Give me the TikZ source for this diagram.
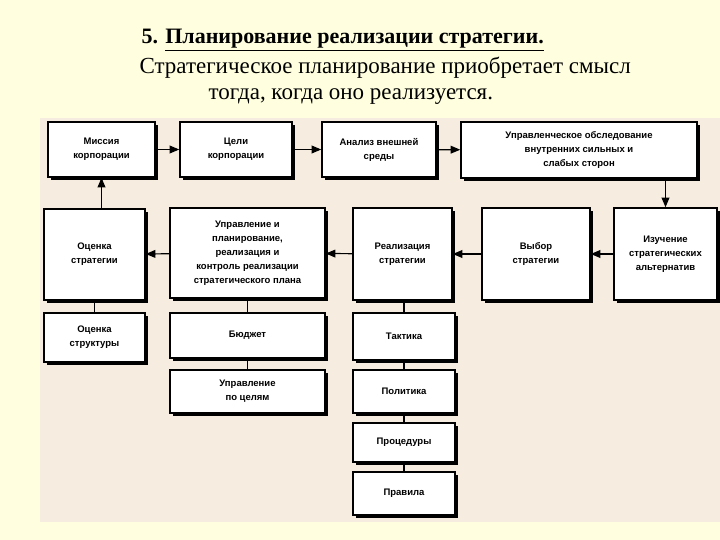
\documentclass[tikz,border=0pt]{standalone}
\usepackage{fontspec}
\setmainfont{Liberation Serif}
\newfontfamily\boxfont{Liberation Sans}
\usetikzlibrary{arrows, shadows, calc}

\definecolor{slidebg}{RGB}{255,255,224}
\definecolor{paperbg}{RGB}{246,237,224}
\tikzset{
  blk/.style={draw=black, line width=1.6pt, fill=white, align=center,
    font=\boxfont\bfseries\fontsize{9.5}{14}\selectfont, inner sep=1pt,
    drop shadow={shadow xshift=3pt, shadow yshift=-3pt, fill=black, opacity=1}},
  lnk/.style={line width=1.2pt, -triangle 45},
  tie/.style={line width=1.2pt}
}
\newcommand{\blkat}[6]{% name, x1, y1, x2, y2, text
  \node[blk, minimum width=#4-#2, minimum height=#5-#3] (#1) at ({(#2+#4)/2},{(#3+#5)/2}) {#6};}

\begin{document}
\begin{tikzpicture}[x=1pt,y=-1pt]
  \useasboundingbox (0,0) rectangle (720,540);
  \fill[slidebg] (0,0) rectangle (720,540);
  \fill[paperbg] (40,118) rectangle (720,522);

  % title
  \node[anchor=west, font=\fontsize{22}{26}\selectfont\bfseries] (title) at (138,40)
    {5. \underline{Планирование реализации стратегии.}};
  \node[anchor=west, font=\fontsize{23}{26}\selectfont] (sub1) at (136,68)
    {Стратегическое планирование приобретает смысл};
  \node[anchor=west, font=\fontsize{23}{26}\selectfont] (sub2) at (205,97)
    {тогда, когда оно реализуется.};

  % top row
  \blkat{miss}{48}{122}{155}{177}{Миссия\\корпорации}
  \blkat{goal}{180}{122}{292}{177}{Цели\\корпорации}
  \blkat{env}{322}{122}{436}{177}{Анализ внешней\\среды}
  \blkat{surv}{461}{122}{697}{178}{Управленческое обследование\\внутренних сильных и\\слабых сторон}

  % middle row
  \blkat{evst}{44}{209}{145}{300}{Оценка\\стратегии}
  \blkat{ctrl}{170}{208}{325}{298}{Управление и\\планирование,\\реализация и\\контроль реализации\\стратегического плана}
  \blkat{impl}{353}{208}{452}{300}{Реализация\\стратегии}
  \blkat{sel}{482}{208}{590}{300}{Выбор\\стратегии}
  \blkat{alt}{614}{208}{717}{300}{Изучение\\стратегических\\альтернатив}

  % lower boxes
  \blkat{evstr}{44}{313}{145}{362}{Оценка\\структуры}
  \blkat{budg}{170}{313}{325}{358}{Бюджет}
  \blkat{mbo}{170}{370}{325}{413}{Управление\\по целям}
  \blkat{tact}{353}{313}{455}{360}{Тактика}
  \blkat{pol}{353}{370}{455}{413}{Политика}
  \blkat{proc}{353}{423}{455}{462}{Процедуры}
  \blkat{rule}{353}{472}{455}{515}{Правила}

  % arrows
  \draw[lnk] (miss) -- (goal);
  \draw[lnk] (goal) -- (env);
  \draw[lnk] (env) -- (surv);
  \draw[lnk] (surv.south -| alt) -- (alt);
  \draw[lnk] (alt) -- (sel);
  \draw[lnk] (sel) -- (impl);
  \draw[lnk] (impl) -- (ctrl);
  \draw[lnk] (ctrl) -- (evst);
  \draw[lnk] (evst.north -| miss) -- (miss);

  % ties
  \draw[tie] (evst) -- (evstr);
  \draw[tie] (ctrl) -- (budg);
  \draw[tie] (budg) -- (mbo);
  \draw[tie] (impl.south -| tact) -- (tact);
  \draw[tie] (tact) -- (pol);
  \draw[tie] (pol) -- (proc);
  \draw[tie] (proc) -- (rule);
\end{tikzpicture}
\end{document}
